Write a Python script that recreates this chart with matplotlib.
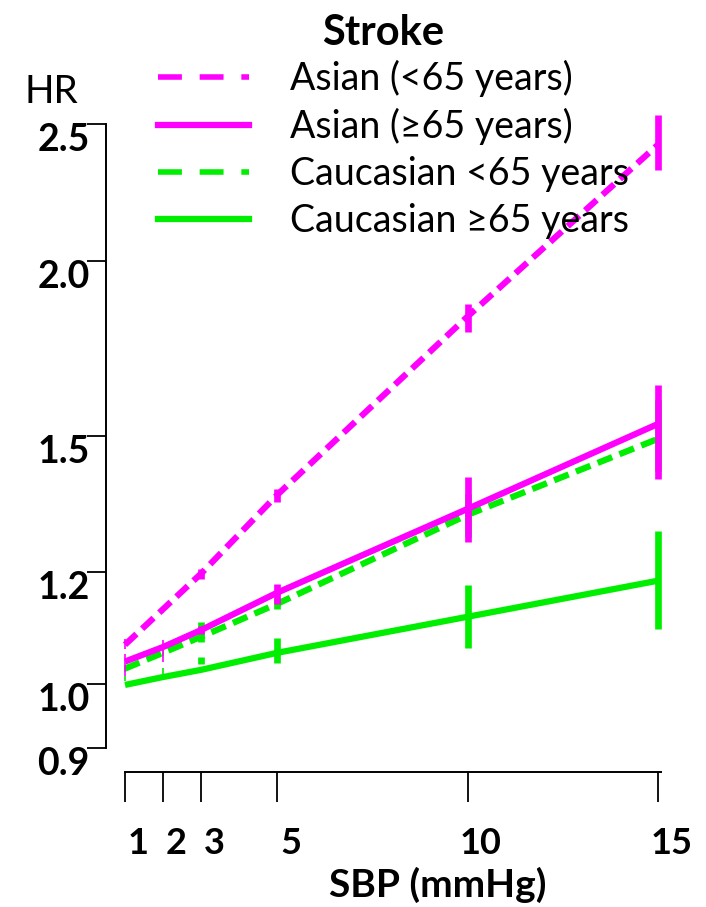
import matplotlib
matplotlib.use("Agg")
import matplotlib.pyplot as plt
from matplotlib.lines import Line2D
from matplotlib.ticker import FixedLocator, FixedFormatter, NullLocator
from matplotlib.transforms import ScaledTranslation

plt.rcParams['font.family'] = ['Lato', 'DejaVu Sans']

# SBP increase (mmHg)
sbp = [1, 2, 3, 5, 10, 15]

# hazard ratios, with lower / upper ends of the bars
asian_young_hr = [1.066, 1.130, 1.198, 1.363, 1.826, 2.42]
asian_young_lo = [1.059, 1.122, 1.188, 1.347, 1.78, 2.32]
asian_young_hi = [1.076, 1.136, 1.207, 1.376, 1.864, 2.54]

asian_old_hr = [1.037, 1.062, 1.092, 1.161, 1.332, 1.531]
asian_old_lo = [1.013, 1.037, 1.085, 1.140, 1.262, 1.399]
asian_old_hi = [1.049, 1.075, 1.100, 1.178, 1.404, 1.632]

cauc_young_hr = [1.025, 1.052, 1.080, 1.140, 1.319, 1.494]
cauc_young_lo = [1.020, 1.047, 1.071, 1.130, 1.272, 1.418]
cauc_young_hi = [1.030, 1.057, 1.107, 1.150, 1.365, 1.593]

cauc_old_hr = [0.998, 1.011, 1.023, 1.052, 1.116, 1.184]
cauc_old_lo = [1.005, 1.016, 1.033, 1.035, 1.061, 1.094]
cauc_old_hi = [1.012, 1.026, 1.045, 1.077, 1.176, 1.285]

labels = ['Asian (<65 years)', 'Asian (\u226565 years)',
          'Caucasian <65 years', 'Caucasian \u226565 years']
y_ticks = [0.9, 1.0, 1.2, 1.5, 2.0, 2.5]

MAG = '#ff00ff'
GRN = '#00ee00'

fig = plt.figure(figsize=(7.06, 9.07), dpi=100)
ax = fig.add_axes([0.1501, 0.1753, 0.8095, 0.7139])


def draw(hr, lo, hi, color, dashed):
    kw = dict(color=color, lw=4.5, solid_capstyle='butt')
    if dashed:
        kw['dashes'] = (2.5, 1.25)
    ax.plot(sbp, hr, **kw)
    for x, l, h in zip(sbp, lo, hi):
        w = 1.2 if x < 3 else 4.8
        ax.vlines(x, l, h, colors=color, lw=w)


draw(cauc_old_hr, cauc_old_lo, cauc_old_hi, GRN, False)
draw(cauc_young_hr, cauc_young_lo, cauc_young_hi, GRN, True)
draw(asian_old_hr, asian_old_lo, asian_old_hi, MAG, False)
draw(asian_young_hr, asian_young_lo, asian_young_hi, MAG, True)

ax.set_yscale('log')
ax.set_ylim(0.9, 2.6)
ax.set_xlim(0.5, 15.5)

ax.yaxis.set_major_locator(FixedLocator(y_ticks))
ax.yaxis.set_major_formatter(FixedFormatter(['%.1f' % v for v in y_ticks]))
ax.yaxis.set_minor_locator(NullLocator())
ax.set_xticks(sbp)
ax.set_xticklabels([str(v) for v in sbp])

for s in ['top', 'right']:
    ax.spines[s].set_visible(False)
ax.spines['left'].set_bounds(0.9, 2.5)
ax.spines['bottom'].set_bounds(1, 15.08)
ax.spines['bottom'].set_position(('outward', 17.3))
for s in ['left', 'bottom']:
    ax.spines[s].set_linewidth(1.4)

ax.tick_params(axis='x', direction='out', length=21.5, width=1.3, pad=18,
               labelsize=26)
ax.tick_params(axis='y', direction='out', length=13.7, width=1.3, pad=-2,
               labelsize=27)
for t in ax.get_xticklabels():
    t.set_fontweight('bold')
    t.set_transform(t.get_transform() + ScaledTranslation(0.13, 0, fig.dpi_scale_trans))
for t in ax.get_yticklabels():
    t.set_fontweight('bold')
    t.set_transform(t.get_transform() + ScaledTranslation(0, -0.13, fig.dpi_scale_trans))

fig.text(383 / 706, 1 - 45 / 907, 'Stroke', fontsize=30, fontweight='bold',
         ha='center', va='baseline')
fig.text(25 / 706, 1 - 103 / 907, 'HR', fontsize=28, ha='left', va='baseline')
fig.text(438 / 706, 1 - 897 / 907, 'SBP (mmHg)', fontsize=28, fontweight='bold',
         ha='center', va='baseline')

handles = [
    Line2D([], [], color=MAG, lw=4.0, dashes=(4.3, 3.2)),
    Line2D([], [], color=MAG, lw=4.5),
    Line2D([], [], color=GRN, lw=4.0, dashes=(4.3, 3.2)),
    Line2D([], [], color=GRN, lw=4.5),
]
fig.legend(handles, labels, loc='upper left', bbox_to_anchor=(158 / 706, 1 - 60 / 907),
           frameon=False, fontsize=27, handlelength=2.43, handletextpad=1.1,
           labelspacing=0.29, borderpad=0, borderaxespad=0)

fig.savefig('out.png', dpi=100)
